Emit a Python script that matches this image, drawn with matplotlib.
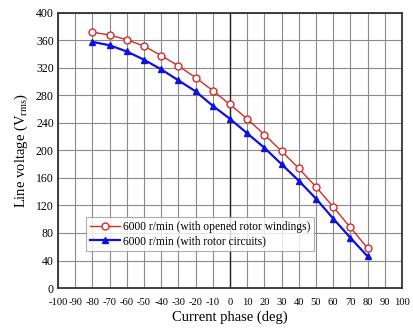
import numpy as np
import matplotlib
matplotlib.use('Agg')
import matplotlib.pyplot as plt

# data
phase = [-80, -70, -60, -50, -40, -30, -20, -10, 0, 10, 20, 30, 40, 50, 60, 70, 80]
v_open = [372, 368, 361, 352, 338, 323, 306, 287, 267, 246, 223, 199, 174, 147, 118, 88, 58]
v_rotor = [358, 353, 344, 332, 318, 302, 286, 265, 246, 225, 204, 180, 156, 130, 101, 73, 46]

xticks = np.arange(-100, 101, 10)
yticks = np.arange(0, 401, 40)

plt.rcParams['font.family'] = ['Liberation Serif', 'DejaVu Serif']
plt.rcParams['mathtext.fontset'] = 'stix'

fig = plt.figure(figsize=(4.14, 3.29), dpi=100)
ax = fig.add_axes([0.140, 0.1246, 0.831, 0.836])

ax.plot(phase, v_open, '-o', color='#d62a2a', lw=1.0, ms=5,
        mfc='white', mec='#d62a2a', mew=1.0,
        label='6000 r/min (with opened rotor windings)', zorder=3)
ax.plot(phase, v_rotor, '-^', color='#1010e0', lw=1.6, ms=5,
        mfc='#1010e0', mec='#1010e0',
        label='6000 r/min (with rotor circuits)', zorder=3)

ax.set_xlim(-100, 100)
ax.set_ylim(0, 400)
ax.set_xticks(xticks)
ax.set_yticks(yticks)
ax.set_xticklabels([str(t) for t in xticks], fontsize=7.6)
ax.set_yticklabels([str(t) for t in yticks], fontsize=8.5)
ax.tick_params(length=0, pad=3)
ax.tick_params(axis='x', pad=7)

ax.grid(True, color='#8a8a8a', linestyle='-', linewidth=0.8)
ax.axvline(0, color='#222222', lw=1.0, zorder=2)
for s in ax.spines.values():
    s.set_color('#333333')
    s.set_linewidth(1.3)

ax.set_xlabel('Current phase (deg)', fontsize=10.5, labelpad=3)
ax.set_ylabel('Line voltage (V$_{\\rm rms}$)', fontsize=10.5, labelpad=4)

leg = ax.legend(loc='lower left', bbox_to_anchor=(0.065, 0.115), fontsize=8.3,
                frameon=True, fancybox=False, edgecolor='#999999',
                handlelength=2.6, borderpad=0.3, labelspacing=0.2,
                handletextpad=0.3)
leg.get_frame().set_linewidth(0.8)

fig.savefig('out.png', dpi=100)
